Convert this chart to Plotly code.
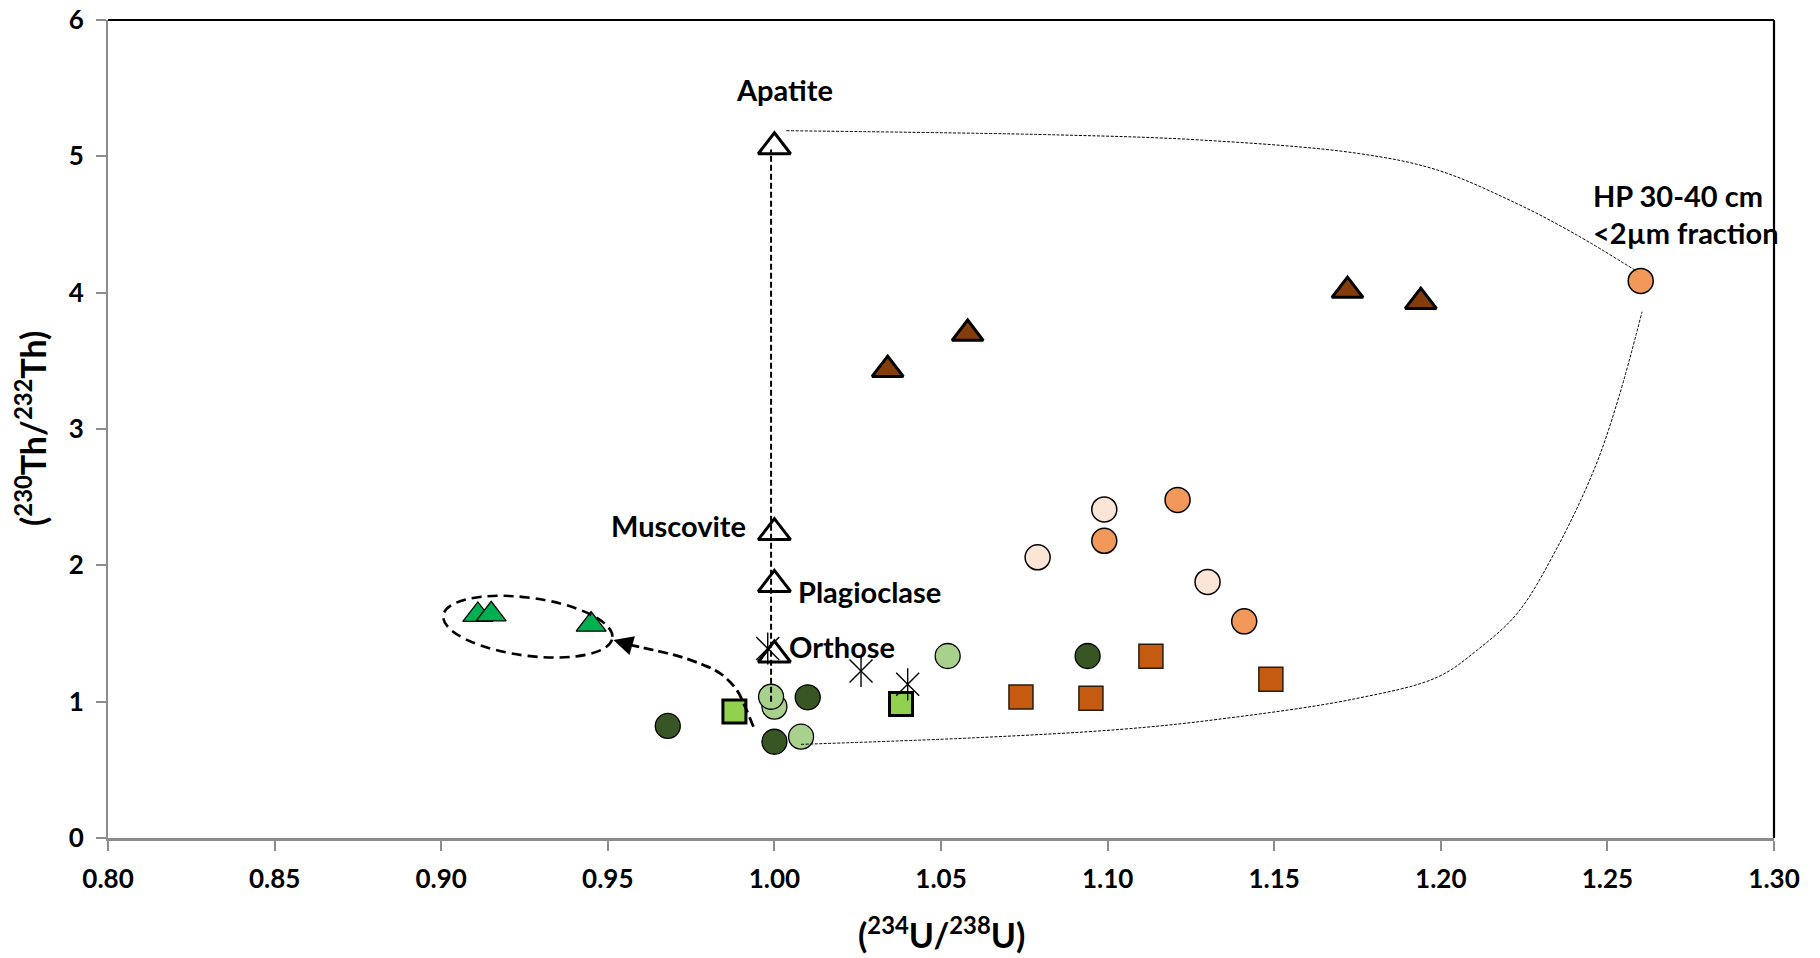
import plotly.graph_objects as go

# ---------------- data ----------------
dark_green_x = [0.968, 1.000, 1.010, 1.094]
dark_green_y = [0.822, 0.706, 1.032, 1.335]

light_green_x = [1.000, 0.999, 1.008, 1.052]
light_green_y = [0.963, 1.036, 0.743, 1.335]

lime_sq_x = [0.988, 1.038]
lime_sq_y = [0.927, 0.983]

orange_sq_x = [1.074, 1.095, 1.113, 1.149]
orange_sq_y = [1.034, 1.025, 1.333, 1.164]

peach_x = [1.079, 1.099, 1.130]
peach_y = [2.059, 2.410, 1.878]

orange_c_x = [1.099, 1.121, 1.141, 1.260]
orange_c_y = [2.180, 2.480, 1.589, 4.086]

brown_tri_x = [1.034, 1.058, 1.172, 1.194]
brown_tri_y = [3.435, 3.700, 4.015, 3.934]

green_tri_x = [0.911, 0.915, 0.945]
green_tri_y = [1.636, 1.641, 1.565]

mineral_names = ["Apatite", "Muscovite", "Plagioclase", "Orthose"]
mineral_x = [1.000, 1.000, 1.000, 1.000]
mineral_y = [5.07, 2.24, 1.86, 1.342]

star_x = [0.998, 1.026, 1.040]
star_y = [1.390, 1.225, 1.127]

x_ticks = [0.80, 0.85, 0.90, 0.95, 1.00, 1.05, 1.10, 1.15, 1.20, 1.25, 1.30]
y_ticks = [0, 1, 2, 3, 4, 5, 6]

# guide lines (annotation geometry)
vline_x = [0.999, 0.999]
vline_y = [1.00, 5.05]

arrow_x = [0.9937, 0.9912, 0.9887, 0.9837, 0.9787, 0.9717, 0.9637, 0.9567]
arrow_y = [0.816, 0.963, 1.086, 1.208, 1.269, 1.330, 1.379, 1.416]
arrow_tip = (0.9517, 1.452)

upper_x = [1.0036, 1.0854, 1.1277, 1.175, 1.1989, 1.2226, 1.2403, 1.2589]
upper_y = [5.188, 5.157, 5.120, 5.022, 4.900, 4.656, 4.430, 4.156]

lower_x = [1.008, 1.060, 1.104, 1.133, 1.174, 1.199, 1.211, 1.223, 1.2345, 1.2463, 1.2535, 1.2604]
lower_y = [0.687, 0.735, 0.797, 0.870, 1.020, 1.180, 1.380, 1.650, 2.110, 2.720, 3.240, 3.860]

ell_center = (0.926, 1.550)
ell_a = (0.0254, -0.073)   # half-diameter to the right end
ell_b = (0.0, 0.2144)      # conjugate half-diameter (vertical)

FONT = "Lato, 'Open Sans', sans-serif"

fig = go.Figure()

def add_markers(x, y, symbol, size, fill, lw, lc="black"):
    fig.add_trace(go.Scatter(
        x=x, y=y, mode="markers", showlegend=False, hoverinfo="skip",
        marker=dict(symbol=symbol, size=size, color=fill,
                    line=dict(color=lc, width=lw))))

add_markers(dark_green_x, dark_green_y, "circle", 25, "#375623", 1.3)
add_markers(light_green_x, light_green_y, "circle", 25, "#A9D18E", 1.3)
add_markers(lime_sq_x, lime_sq_y, "square", 23, "#92D050", 3)
add_markers(orange_sq_x, orange_sq_y, "square", 24, "#C55A11", 1.5, "#2a1a0a")
add_markers(peach_x, peach_y, "circle", 25, "#FBE5D6", 1.5)
add_markers(orange_c_x, orange_c_y, "circle", 25, "#F1985A", 1.5)
add_markers(brown_tri_x, brown_tri_y, "triangle-up", 27, "#843C0C", 3)
add_markers(green_tri_x, green_tri_y, "triangle-up", 26, "#00B050", 1.3)
add_markers(mineral_x, mineral_y, "triangle-up", 28, "white", 3)
add_markers(star_x, star_y, "x-thin-open", 23, "black", 1.4)
add_markers(star_x, star_y, "line-ns-open", 23, "black", 1.4)

# guide lines drawn on top of markers
def add_line(x, y, width, dash, shape="linear"):
    fig.add_trace(go.Scatter(
        x=x, y=y, mode="lines", showlegend=False, hoverinfo="skip",
        line=dict(color="black", width=width, dash=dash, shape=shape)))

add_line(vline_x, vline_y, 2, "6px,3px")
add_line(arrow_x, arrow_y, 2.8, "10px,5px", "spline")
add_line(upper_x, upper_y, 1, "3px,1.5px", "spline")
add_line(lower_x, lower_y, 1, "3px,1.5px", "spline")

# tilted dashed ellipse as Bezier path
k = 0.5523
cx, cy = ell_center
ax_, ay_ = ell_a
bx_, by_ = ell_b
def P(u, v):
    return f"{cx + u*ax_ + v*bx_},{cy + u*ay_ + v*by_}"
path = (f"M {P(1,0)} C {P(1,k)} {P(k,1)} {P(0,1)} "
        f"C {P(-k,1)} {P(-1,k)} {P(-1,0)} "
        f"C {P(-1,-k)} {P(-k,-1)} {P(0,-1)} "
        f"C {P(k,-1)} {P(1,-k)} {P(1,0)} Z")

shapes = [
    dict(type="path", path=path, xref="x", yref="y",
         line=dict(color="black", width=2.6, dash="10px,6px")),
    # black top and right frame
    dict(type="line", xref="paper", yref="paper", x0=0, x1=1, y0=1, y1=1,
         line=dict(color="black", width=2.2)),
    dict(type="line", xref="paper", yref="paper", x0=1, x1=1, y0=0, y1=1,
         line=dict(color="black", width=2.2)),
]

lab_font = dict(family=FONT, size=29, color="black", weight="bold")
title_font = dict(family=FONT, size=34, color="black", weight="bold")
annotations = [
    dict(x=arrow_tip[0], y=arrow_tip[1], ax=arrow_x[-1], ay=arrow_y[-1],
         axref="x", ayref="y", xref="x", yref="y", text="", showarrow=True,
         arrowhead=2, arrowsize=1.5, arrowwidth=2.6, arrowcolor="black"),
    dict(x=1.003, y=5.487, text=mineral_names[0], showarrow=False,
         xanchor="center", yanchor="middle", font=lab_font),
    dict(x=0.9922, y=2.289, text=mineral_names[1], showarrow=False,
         xanchor="right", yanchor="middle", font=lab_font),
    dict(x=1.0065, y=1.81, text=mineral_names[2], showarrow=False,
         xanchor="left", yanchor="middle", font=lab_font),
    dict(x=1.0037, y=1.403, text=mineral_names[3], showarrow=False,
         xanchor="left", yanchor="middle", font=lab_font),
    dict(x=1.245, y=4.716, text="HP 30-40 cm", showarrow=False,
         xanchor="left", yanchor="middle", font=lab_font),
    dict(x=1.245, y=4.44, text="&lt;2µm fraction", showarrow=False,
         xanchor="left", yanchor="middle", font=lab_font),
    # axis titles
    dict(x=0.5, y=0, xref="paper", yref="paper", yshift=-95,
         text="(<sup>234</sup>U/<sup>238</sup>U)", showarrow=False,
         xanchor="center", yanchor="middle", font=title_font),
    dict(x=0, y=0.5, xref="paper", yref="paper", xshift=-77,
         text="(<sup>230</sup>Th/<sup>232</sup>Th)", showarrow=False,
         textangle=-90, xanchor="center", yanchor="middle", font=title_font),
]

tick_font = dict(family=FONT, size=26, color="black", weight="bold")

fig.update_layout(
    width=1820, height=958,
    margin=dict(l=108, r=46, t=20, b=120, autoexpand=False),
    paper_bgcolor="white", plot_bgcolor="white",
    shapes=shapes, annotations=annotations,
    xaxis=dict(range=[0.80, 1.30], tickvals=x_ticks, tickformat=".2f",
               showgrid=False, zeroline=False, showline=True,
               linecolor="#8c8c8c", linewidth=3, automargin=False,
               ticks="outside", ticklen=10, tickcolor="#8c8c8c", tickwidth=1.5,
               tickfont=tick_font, ticklabelstandoff=6,
               ticklabeloverflow="allow"),
    yaxis=dict(range=[0, 6], tickvals=y_ticks, showgrid=False, zeroline=False,
               showline=True, linecolor="#8c8c8c", linewidth=2, automargin=False,
               ticks="outside", ticklen=10, tickcolor="#8c8c8c", tickwidth=1.5,
               tickfont=tick_font, ticklabelstandoff=7,
               ticklabeloverflow="allow"),
)

# remove the default page margin so the 1820x958 figure fills the window exactly
fig.write_html("out.html",
               config={"displayModeBar": False},
               post_script="document.body.style.margin='0px';"
                           "document.body.style.overflow='hidden';")
